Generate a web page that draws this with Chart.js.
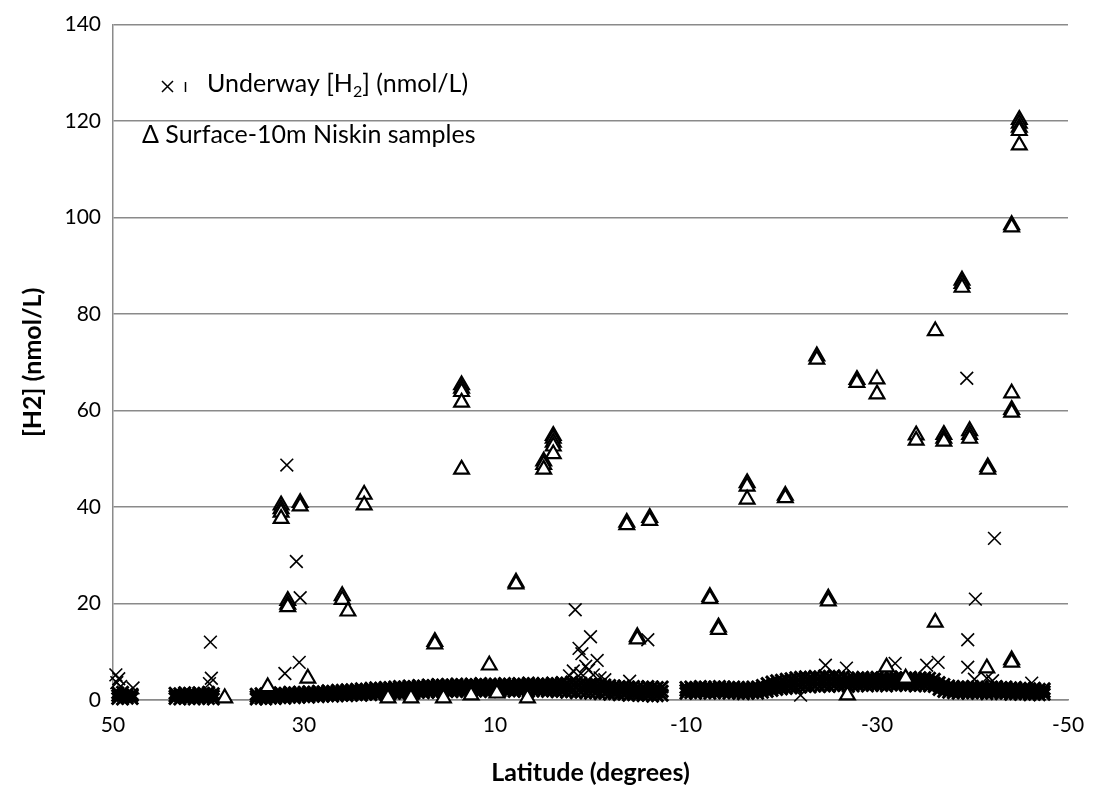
<!DOCTYPE html>
<html>
<head>
<meta charset="utf-8">
<title>H2 vs latitude</title>
<script src="https://cdn.jsdelivr.net/npm/chart.js@4.4.1/dist/chart.umd.min.js"></script>
<style>
  html, body { margin: 0; padding: 0; background: #fff; }
</style>
</head>
<body>
<canvas id="h2Chart" width="1093" height="790"></canvas>
<script>
// Underway band: latitude and the low / middle / high edge of the dense band
const bandLat = [
  49.5, 49, 48.5, 48,
  43.5, 43, 42.5, 42, 41.5, 41, 40.5, 40, 39.5,
  35, 34.5, 34, 33.5, 33, 32.5, 32, 31.5, 31, 30.5,
  30, 29.5, 29, 28.5, 28, 27.5, 27, 26.5, 26, 25.5,
  25, 24.5, 24, 23.5, 23, 22.5, 22, 21.5, 21, 20.5,
  20, 19.5, 19, 18.5, 18, 17.5, 17, 16.5, 16, 15.5,
  15, 14.5, 14, 13.5, 13, 12.5, 12, 11.5, 11, 10.5,
  10, 9.5, 9, 8.5, 8, 7.5, 7, 6.5, 6, 5.5,
  5, 4.5, 4, 3.5, 3, 2.5, 2, 1.5, 1, 0.5,
  0, -0.5, -1, -1.5, -2, -2.5, -3, -3.5, -4, -4.5,
  -5, -5.5, -6, -6.5, -7, -7.5,
  -10, -10.5, -11, -11.5, -12, -12.5, -13, -13.5, -14, -14.5,
  -15, -15.5, -16, -16.5, -17, -17.5, -18, -18.5, -19, -19.5,
  -20, -20.5, -21, -21.5, -22, -22.5, -23, -23.5, -24, -24.5,
  -25, -25.5, -26, -26.5, -27, -27.5, -28, -28.5, -29, -29.5,
  -30, -30.5, -31, -31.5, -32, -32.5, -33, -33.5, -34, -34.5,
  -35, -35.5, -36, -36.5, -37, -37.5, -38, -38.5, -39, -39.5,
  -40, -40.5, -41, -41.5, -42, -42.5, -43, -43.5, -44, -44.5,
  -45, -45.5, -46, -46.5, -47, -47.5
];
const bandLo = [
  0.3, 0.2, 0.4, 0.3,
  0.3, 0.2, 0.4, 0.3, 0.2, 0.3, 0.4, 0.3, 0.2,
  0.2, 0.3, 0.2, 0.4, 0.3, 0.5, 0.4, 0.6, 0.5, 0.6,
  0.7, 0.6, 0.8, 0.7, 0.8, 0.9, 0.8, 0.9, 1.0, 0.9,
  1.0, 1.1, 1.0, 1.2, 1.1, 1.2, 1.3, 1.2, 1.3, 1.4,
  1.3, 1.4, 1.5, 1.4, 1.6, 1.5, 1.6, 1.7, 1.6, 1.7,
  1.8, 1.7, 1.8, 1.9, 1.8, 1.7, 1.9, 1.8, 1.9, 1.8,
  1.9, 1.8, 2.0, 1.9, 1.8, 2.0, 1.9, 1.8, 1.9, 2.0,
  1.9, 1.8, 1.9, 1.7, 1.8, 1.6, 1.7, 1.5, 1.6, 1.5,
  1.4, 1.5, 1.3, 1.4, 1.2, 1.3, 1.1, 1.2, 1.0, 1.1,
  1.0, 0.9, 1.0, 0.8, 0.9, 1.0,
  1.4, 1.5, 1.4, 1.6, 1.5, 1.4, 1.5, 1.6, 1.5, 1.4,
  1.5, 1.4, 1.3, 1.4, 1.5, 1.4, 1.6, 1.8, 2.0, 2.2,
  2.3, 2.4, 2.5, 2.6, 2.7, 2.8, 2.7, 2.9, 2.8, 2.9,
  2.8, 3.0, 2.9, 3.0, 2.8, 2.9, 3.0, 3.1, 2.9, 3.0,
  3.1, 3.0, 2.9, 3.1, 3.0, 3.2, 3.0, 3.1, 2.9, 3.0,
  3.0, 2.9, 2.8, 2.2, 1.8, 1.6, 1.5, 1.4, 1.5, 1.4,
  1.5, 1.4, 1.5, 1.3, 1.4, 1.5, 1.3, 1.4, 1.2, 1.3,
  1.2, 1.3, 1.1, 1.2, 1.1, 1.2
];
const bandMid = [
  0.9, 1.0, 0.8, 0.9,
  0.8, 0.9, 0.7, 0.9, 0.8, 1.0, 0.8, 0.9, 0.8,
  0.7, 0.8, 0.7, 0.9, 0.8, 1.0, 0.9, 1.1, 1.0, 1.1,
  1.1, 1.2, 1.1, 1.3, 1.2, 1.4, 1.3, 1.5, 1.4, 1.6,
  1.5, 1.7, 1.6, 1.8, 1.7, 1.9, 1.8, 2.0, 1.9, 2.1,
  2.0, 2.1, 2.2, 2.1, 2.3, 2.2, 2.4, 2.3, 2.4, 2.5,
  2.4, 2.5, 2.6, 2.5, 2.4, 2.6, 2.5, 2.7, 2.6, 2.5,
  2.6, 2.5, 2.7, 2.6, 2.5, 2.7, 2.6, 2.8, 2.7, 2.6,
  2.7, 2.6, 2.8, 2.6, 2.7, 2.5, 2.6, 2.7, 2.5, 2.6,
  2.4, 2.5, 2.3, 2.4, 2.2, 2.1, 2.0, 2.1, 1.9, 1.8,
  1.8, 1.7, 1.9, 1.8, 1.7, 1.8,
  2.0, 2.1, 2.0, 2.2, 2.1, 2.0, 2.1, 2.2, 2.1, 2.0,
  2.1, 2.0, 1.9, 2.0, 2.1, 2.0, 2.3, 2.6, 2.9, 3.1,
  3.2, 3.3, 3.4, 3.6, 3.7, 3.8, 3.7, 3.9, 3.8, 3.9,
  3.8, 3.9, 3.8, 3.9, 3.6, 3.7, 3.8, 3.9, 3.7, 3.8,
  3.9, 3.8, 3.7, 3.9, 3.8, 4.0, 3.8, 3.9, 3.7, 3.8,
  3.8, 3.7, 3.5, 2.9, 2.5, 2.2, 2.1, 2.0, 2.1, 2.0,
  2.1, 2.0, 2.1, 1.9, 2.0, 2.1, 1.9, 2.0, 1.8, 1.9,
  1.8, 1.9, 1.7, 1.8, 1.7, 1.7
];
const bandHi = [
  1.5, 1.6, 1.3, 1.2,
  1.4, 1.3, 1.5, 1.4, 1.3, 1.5, 1.4, 1.6, 1.3,
  1.2, 1.3, 1.3, 1.4, 1.3, 1.5, 1.4, 1.6, 1.5, 1.6,
  1.6, 1.7, 1.6, 1.8, 1.7, 1.9, 1.8, 2.0, 2.0, 2.1,
  2.1, 2.2, 2.3, 2.2, 2.4, 2.5, 2.4, 2.6, 2.6, 2.7,
  2.8, 2.7, 2.9, 2.8, 3.0, 2.9, 3.1, 3.0, 3.2, 3.1,
  3.2, 3.1, 3.3, 3.2, 3.1, 3.3, 3.2, 3.4, 3.2, 3.3,
  3.3, 3.2, 3.4, 3.3, 3.2, 3.4, 3.3, 3.5, 3.4, 3.3,
  3.4, 3.3, 3.5, 3.4, 3.6, 3.5, 3.7, 3.6, 3.5, 3.4,
  3.3, 3.4, 3.2, 3.1, 3.0, 2.9, 2.8, 2.9, 2.7, 2.8,
  2.7, 2.6, 2.8, 2.7, 2.6, 2.7,
  2.6, 2.7, 2.6, 2.8, 2.7, 2.6, 2.7, 2.8, 2.7, 2.6,
  2.7, 2.6, 2.5, 2.6, 2.7, 2.7, 3.0, 3.4, 3.7, 4.0,
  4.1, 4.3, 4.4, 4.6, 4.7, 4.8, 4.7, 4.9, 4.8, 5.0,
  4.9, 5.0, 4.8, 4.9, 4.4, 4.5, 4.6, 4.7, 4.5, 4.6,
  4.7, 4.6, 4.5, 4.7, 4.6, 4.8, 4.6, 4.7, 4.5, 4.6,
  4.6, 4.5, 4.3, 3.6, 3.2, 2.9, 2.8, 2.7, 2.8, 2.7,
  2.8, 2.7, 2.8, 2.6, 2.7, 2.8, 2.6, 2.7, 2.5, 2.6,
  2.4, 2.5, 2.3, 2.4, 2.2, 2.3
];

// Underway readings standing out above the band
const spikeLat = [
  49.7, 49.4, 49.6, 49.2, 47.9,
  39.8, 39.7, 39.9,
  31.8, 30.8, 30.4, 32.0, 30.5,
  1.6, 0.0, 1.2, 0.9, -0.7, 1.8, 0.5, 1.0, -0.3, -1.0, -1.5, 2.2, 0.2,
  -4.1, -6.0,
  -22.0, -24.6, -26.8, -31.9, -35.2, -36.4,
  -39.4, -42.3, -40.3, -39.5, -39.5, -41.5, -42.1, -40.2, -46.2
];
const spikeVal = [
  5.2, 4.4, 3.6, 2.8, 2.5,
  12.0, 4.5, 3.4,
  48.7, 28.7, 21.2, 5.5, 7.8,
  18.7, 13.1, 10.7, 9.6, 8.2, 6.0, 7.0, 5.5, 5.2, 4.6, 4.2, 5.0, 6.2,
  3.9, 12.5,
  1.0, 7.2, 6.6, 7.6, 7.2, 7.8,
  66.7, 33.5, 20.9, 12.5, 6.8, 4.5, 4.0, 4.3, 3.5
];

// Surface-10m Niskin samples
const niskinLat = [
  32.4, 32.4, 32.4, 32.4, 30.4, 30.4, 23.7, 23.7,
  31.7, 31.7, 31.7, 26.0, 26.0, 25.4,
  7.8, 7.8,
  13.5, 13.5, 13.5, 13.5, 13.5,
  4.9, 4.9, 4.9,
  3.9, 3.9, 3.9, 3.9, 3.9,
  -3.8, -3.8, -6.2, -6.2,
  -16.4, -16.4, -16.4, -20.4, -20.4,
  -23.7, -23.7,
  -12.5, -12.5, -13.4, -13.4, -4.9, -4.9,
  16.3, 16.3, 10.6,
  -24.9, -24.9,
  -27.9, -27.9, -30.0, -30.0,
  -34.1, -34.1, -37.0, -37.0, -37.0, -39.7, -39.7, -39.7,
  -41.6, -41.6, -36.1, -36.1,
  -38.9, -38.9, -38.9,
  -44.1, -44.1, -44.1, -44.1, -44.1, -44.1, -44.1,
  -44.9, -44.9, -44.9, -44.9, -44.9,
  -41.5, -33.0, -31.0, -26.9,
  33.8, 29.6, 38.3, 21.2, 18.8, 15.4, 12.5, 9.8, 6.6
];
const niskinVal = [
  40.4, 39.6, 38.9, 37.6, 40.9, 40.2, 42.6, 40.4,
  20.6, 19.8, 19.3, 21.6, 20.8, 18.4,
  24.4, 24.0,
  65.3, 64.6, 63.9, 61.7, 47.8,
  49.5, 48.8, 47.8,
  54.8, 54.2, 53.4, 52.6, 51.0,
  36.8, 36.3, 37.8, 37.2,
  45.0, 44.3, 41.6, 42.4, 41.9,
  71.3, 70.6,
  21.4, 21.0, 15.1, 14.6, 13.1, 12.6,
  12.1, 11.6, 7.2,
  21.1, 20.5,
  66.4, 65.8, 66.5, 63.4,
  54.9, 53.8, 55.0, 54.2, 53.6, 55.8, 55.0, 54.2,
  48.3, 47.8, 76.5, 16.1,
  87.0, 86.3, 85.5,
  98.5, 98.0, 63.6, 60.2, 59.6, 8.3, 7.8,
  120.3, 119.5, 118.7, 118.0, 115.0,
  6.6, 4.5, 6.8, 1.0,
  2.7, 4.5, 0.4, 0.4, 0.4, 0.4, 1.0, 1.4, 0.4
];

const xTicks = [50, 30, 10, -10, -30, -50];

const bandPoints = [];
bandLat.forEach((lat, i) => {
  bandPoints.push({ x: lat, y: bandLo[i] });
  bandPoints.push({ x: lat, y: bandMid[i] });
  bandPoints.push({ x: lat, y: bandHi[i] });
});
const spikePoints = spikeLat.map((lat, i) => ({ x: lat, y: spikeVal[i] }));
const niskinPoints = niskinLat.map((lat, i) => ({ x: lat, y: niskinVal[i] }));

const FONT = 'Lato, "Open Sans", sans-serif';
const GRID = '#8a8a8a';

// legend drawn inside the plot, with a subscript 2 in H2
const insideLegend = {
  id: 'insideLegend',
  afterDraw(chart) {
    const ctx = chart.ctx;
    ctx.save();
    ctx.fillStyle = '#000';
    ctx.strokeStyle = '#000';
    ctx.textBaseline = 'middle';
    ctx.textAlign = 'left';

    // cross marker + the small bar next to it
    ctx.lineWidth = 1.5;
    ctx.beginPath();
    ctx.moveTo(162, 81); ctx.lineTo(173, 92);
    ctx.moveTo(173, 81); ctx.lineTo(162, 92);
    ctx.moveTo(185.5, 82); ctx.lineTo(185.5, 92);
    ctx.stroke();

    ctx.font = '25px ' + FONT;
    let x = 207;
    const t1 = 'Underway [H';
    ctx.fillText(t1, x, 84);
    x += ctx.measureText(t1).width;
    ctx.font = '16px ' + FONT;
    ctx.fillText('2', x, 92);
    x += ctx.measureText('2').width;
    ctx.font = '25px ' + FONT;
    ctx.fillText('] (nmol/L)', x, 84);

    ctx.fillText('\u0394 Surface-10m Niskin samples', 142, 135);
    ctx.restore();
  }
};

new Chart(document.getElementById('h2Chart'), {
  type: 'scatter',
  data: {
    datasets: [
      {
        label: 'Underway [H2] (nmol/L)',
        data: bandPoints,
        pointStyle: 'crossRot',
        pointRadius: 8.5,
        borderColor: '#000',
        borderWidth: 3,
        clip: false,
        order: 3
      },
      {
        label: 'Underway [H2] (nmol/L) spikes',
        data: spikePoints,
        pointStyle: 'crossRot',
        pointRadius: 9,
        borderColor: '#000',
        borderWidth: 1.6,
        clip: false,
        order: 2
      },
      {
        label: 'Surface-10m Niskin samples',
        data: niskinPoints,
        pointStyle: 'triangle',
        pointRadius: 8.5,
        borderColor: '#000',
        backgroundColor: '#fff',
        borderWidth: 2.2,
        clip: false,
        order: 1
      }
    ]
  },
  options: {
    responsive: false,
    animation: false,
    events: [],
    layout: { padding: { top: 18, right: 25, left: 0, bottom: 0 } },
    plugins: {
      legend: { display: false },
      tooltip: { enabled: false }
    },
    scales: {
      x: {
        type: 'linear',
        reverse: true,
        min: -50,
        max: 50,
        afterBuildTicks: (scale) => { scale.ticks = xTicks.map(v => ({ value: v })); },
        afterFit: (scale) => { scale.height = 90; },
        grid: { display: false },
        border: { display: true, color: GRID, width: 1.5 },
        ticks: { padding: 5, color: '#000', font: { family: FONT, size: 21 } },
        title: {
          display: true,
          text: 'Latitude (degrees)',
          color: '#000',
          font: { family: FONT, size: 25, weight: 'bold' },
          padding: { top: 0, bottom: 2 }
        }
      },
      y: {
        min: 0,
        max: 140,
        ticks: { stepSize: 20, padding: 12, color: '#000', font: { family: FONT, size: 21 } },
        afterFit: (scale) => { scale.width = 113; },
        grid: { color: GRID, lineWidth: 1.5, drawTicks: false },
        border: { display: true, color: GRID, width: 1.5 },
        title: {
          display: true,
          text: '[H2] (nmol/L)',
          color: '#000',
          font: { family: FONT, size: 25, weight: 'bold' },
          padding: { top: 18, bottom: 0 }
        }
      }
    }
  },
  plugins: [insideLegend]
});
</script>
</body>
</html>
